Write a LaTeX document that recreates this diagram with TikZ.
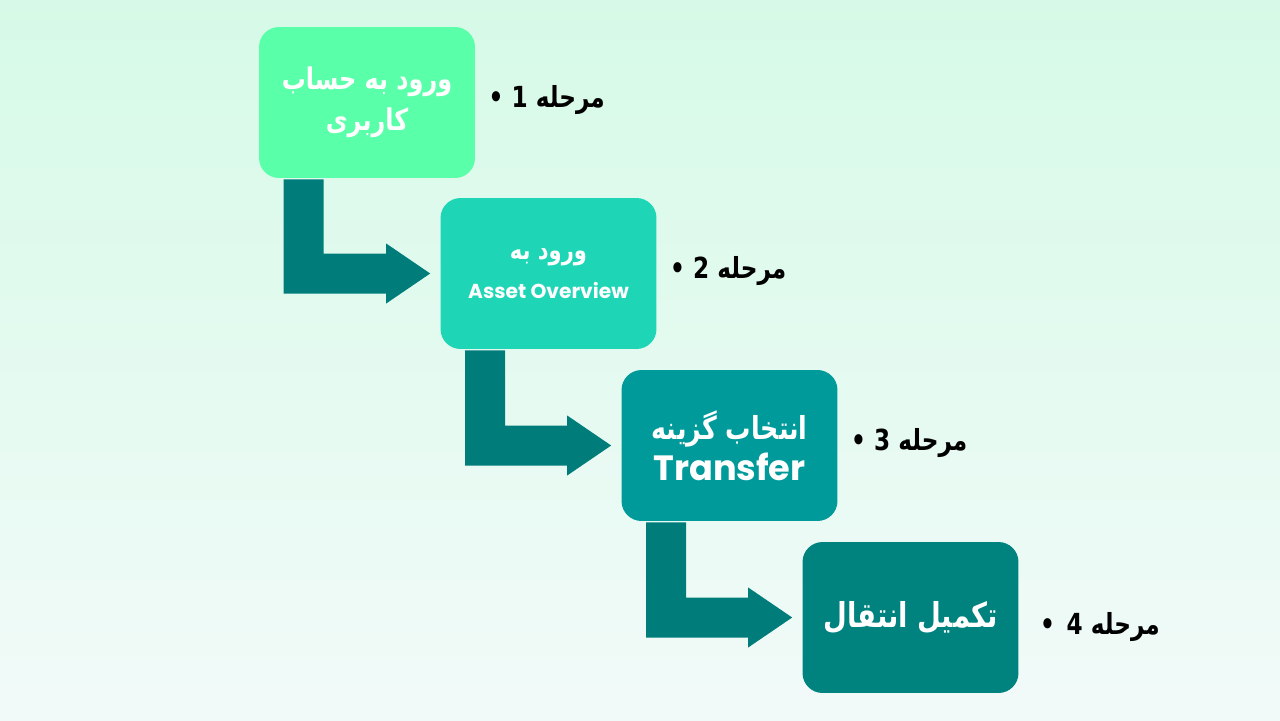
\documentclass[tikz,border=0pt]{standalone}
\usepackage{fontspec}
\setmainfont{DejaVu Sans}
\newfontfamily\arabicfont[Script=Arabic,FakeStretch=0.8]{DejaVu Sans}
\newfontfamily\latinfont{Poppins}
\TeXXeTstate=1
\usetikzlibrary{positioning,calc}

\definecolor{bgtop}{HTML}{D6FAE7}
\definecolor{bgbottom}{HTML}{F2FAF9}
\definecolor{stepone}{HTML}{5AFFA9}
\definecolor{steptwo}{HTML}{1ED6B6}
\definecolor{stepthree}{HTML}{009A9A}
\definecolor{stepfour}{HTML}{00827F}
\definecolor{arrowteal}{HTML}{007D7A}

\tikzset{
  stepbox/.style={rounded corners=0.4cm, minimum width=4.32cm, minimum height=3.02cm,
    text=white, align=center, inner sep=0pt, font=\arabicfont\bfseries},
  steplabel/.style={inner sep=0pt, font=\arabicfont\bfseries\fontsize{16.5}{18}\selectfont},
  elbow/.style={fill=arrowteal},
}

\begin{document}
\begin{tikzpicture}[x=0.02cm,y=-0.02cm]
	\shade[top color=bgtop, bottom color=bgbottom] (0,0) rectangle (1280,720);
	
	\node[stepbox, fill=stepone] (b1) at (367,102.5)
		{\fontsize{17}{22}\selectfont\beginR ورود به حساب\endR\\[5pt]
		 \fontsize{17}{22}\selectfont\beginR کاربری\endR};
	\node[stepbox, fill=steptwo] (b2) at (548.5,273.5)
		{\fontsize{15}{20}\selectfont\beginR ورود به\endR\\[8pt]
		 \latinfont\bfseries\fontsize{11.5}{13}\selectfont Asset Overview};
	\node[stepbox, fill=stepthree] (b3) at (729.5,445.5)
		{\fontsize{18}{22}\selectfont\raisebox{3pt}{\beginR انتخاب گزینه\endR}\\[2pt]
		 \latinfont\bfseries\fontsize{20}{24}\selectfont Transfer};
	\node[stepbox, fill=stepfour] (b4) at (910.5,617.5)
		{\fontsize{19.5}{24}\selectfont\raisebox{4pt}{\beginR تکمیل انتقال\endR}};
	
	\node[steplabel, right=0.26cm of b1, yshift=0.04cm] (l1) {\beginR مرحله \beginL1\endL{} •\endR};
	\node[steplabel, right=0.26cm of b2, yshift=0.04cm] (l2) {\beginR مرحله \beginL2\endL{} •\endR};
	\node[steplabel, right=0.26cm of b3, yshift=0.04cm] (l3) {\beginR مرحله \beginL3\endL{} •\endR};
	\node[steplabel, right=0.42cm of b4, yshift=-0.2cm] (l4) {\beginR مرحله \beginL4\endL{}\hspace{0.4em}•\endR};
	
	% elbow arrows from each box to the next
	\foreach \a/\b in {b1/b2, b2/b3, b3/b4}{
		\coordinate (s) at ($(\a.south west)+(25,1)$);
		\fill[elbow] (s) -- ++(40,0) |- ($(\b.west)+(-54,-20)$) -- ++(0,-10)
			-- ($(\b.west)+(-10,0)$) -- ($(\b.west)+(-54,30)$) -- ++(0,-10) -| (s) -- cycle;
	}
\end{tikzpicture}
\end{document}
